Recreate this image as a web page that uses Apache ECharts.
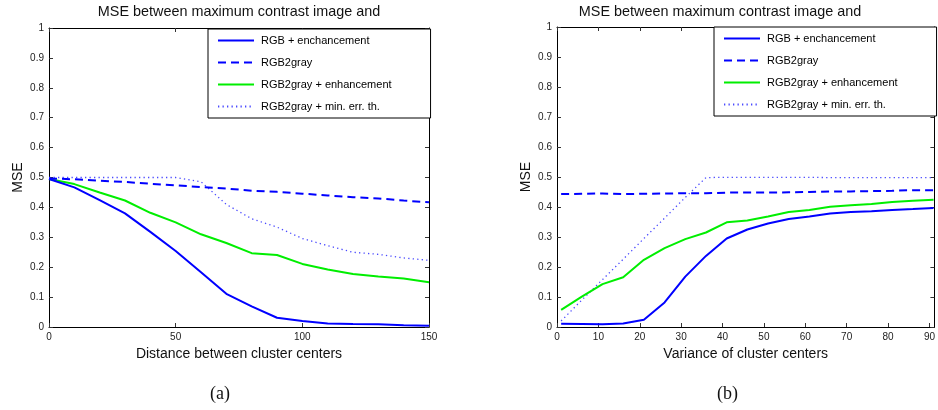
<!DOCTYPE html>
<html>
<head>
<meta charset="utf-8">
<script src="https://cdn.jsdelivr.net/npm/echarts@6/dist/echarts.min.js"></script>
<style>
  html, body { margin: 0; padding: 0; background: #fff; }
  #chart { width: 938px; height: 410px; }
</style>
</head>
<body>
<div id="chart"></div>
<script>
// Panel (a): MSE versus distance between cluster centers
const distX = [0, 10, 20, 30, 40, 50, 60, 70, 80, 90, 100, 110, 120, 130, 140, 150];
const distRgbEnh   = [0.495, 0.467, 0.424, 0.380, 0.318, 0.254, 0.183, 0.111, 0.069, 0.031, 0.020, 0.012, 0.010, 0.009, 0.006, 0.004];
const distGray     = [0.497, 0.494, 0.489, 0.485, 0.479, 0.474, 0.468, 0.463, 0.456, 0.452, 0.446, 0.440, 0.434, 0.430, 0.423, 0.417];
const distGrayEnh  = [0.495, 0.478, 0.450, 0.423, 0.382, 0.350, 0.310, 0.281, 0.247, 0.241, 0.211, 0.192, 0.177, 0.169, 0.162, 0.150];
const distGrayThr  = [0.500, 0.500, 0.500, 0.500, 0.500, 0.500, 0.486, 0.410, 0.362, 0.334, 0.296, 0.272, 0.250, 0.243, 0.231, 0.223];

// Panel (b): MSE versus variance of cluster centers
const varX = [1, 6, 11, 16, 21, 26, 31, 36, 41, 46, 51, 56, 61, 66, 71, 76, 81, 86, 91];
const varRgbEnh   = [0.011, 0.010, 0.009, 0.012, 0.024, 0.082, 0.168, 0.237, 0.295, 0.325, 0.345, 0.360, 0.368, 0.378, 0.383, 0.386, 0.390, 0.393, 0.397];
const varGray     = [0.443, 0.444, 0.445, 0.443, 0.444, 0.445, 0.446, 0.446, 0.448, 0.448, 0.448, 0.449, 0.450, 0.452, 0.452, 0.453, 0.454, 0.456, 0.456];
const varGrayEnh  = [0.057, 0.101, 0.143, 0.166, 0.224, 0.263, 0.293, 0.315, 0.349, 0.355, 0.368, 0.383, 0.390, 0.401, 0.406, 0.410, 0.417, 0.421, 0.424];
const varGrayThr  = [0.020, 0.090, 0.158, 0.226, 0.295, 0.363, 0.432, 0.498, 0.499, 0.499, 0.499, 0.499, 0.499, 0.498, 0.498, 0.498, 0.498, 0.498, 0.498];

const seriesNames = ['RGB + enchancement', 'RGB2gray', 'RGB2gray + enhancement', 'RGB2gray + min. err. th.'];
const titleText = 'MSE between maximum contrast image and';
const xNames = ['Distance between cluster centers', 'Variance of cluster centers'];
const captions = ['(a)', '(b)'];

const FONT = '"Liberation Sans", Arial, Helvetica, sans-serif';

const lineStyles = [
  { color: '#0000ff', width: 2, type: 'solid' },
  { color: '#0000ff', width: 2, type: [8, 5] },
  { color: '#00ee00', width: 2, type: 'solid' },
  { color: '#4a4aff', width: 1.3, type: [1.3, 3.2] }
];

function pairs(xs, ys) { return xs.map((x, i) => [x, ys[i]]); }

const grids = [
  { left: 49, top: 28, width: 380, height: 299 },
  { left: 557, top: 27, width: 380, height: 300 }
];
const xMax = [150, 91.2];

const xAxes = [], yAxes = [], series = [];
grids.forEach((g, gi) => {
  // bottom axis with labels and name
  xAxes.push({
    type: 'value', gridIndex: gi, min: 0, max: xMax[gi], interval: gi === 0 ? 50 : 10,
    position: 'bottom',
    name: xNames[gi], nameLocation: 'middle', nameGap: 17,
    nameTextStyle: { fontFamily: FONT, fontSize: 14, color: '#111' },
    axisLine: { show: true, onZero: false, lineStyle: { color: '#000', width: 1 } },
    axisTick: { show: true, inside: true, length: 4, lineStyle: { color: '#333' } },
    axisLabel: { fontFamily: FONT, fontSize: 10, color: '#222', margin: 5, showMaxLabel: gi === 0 },
    splitLine: { show: false }
  });
  // mirrored top axis (ticks only)
  xAxes.push({
    type: 'value', gridIndex: gi, min: 0, max: xMax[gi], interval: gi === 0 ? 50 : 10,
    position: 'top',
    axisLine: { show: true, onZero: false, lineStyle: { color: '#000', width: 1 } },
    axisTick: { show: true, inside: true, length: 4, lineStyle: { color: '#333' } },
    axisLabel: { show: false },
    splitLine: { show: false }
  });
  yAxes.push({
    type: 'value', gridIndex: gi, min: 0, max: 1, interval: 0.1,
    position: 'left',
    name: 'MSE', nameLocation: 'middle', nameGap: 24,
    nameTextStyle: { fontFamily: FONT, fontSize: 14, color: '#111' },
    axisLine: { show: true, onZero: false, lineStyle: { color: '#000', width: 1 } },
    axisTick: { show: true, inside: true, length: 4, lineStyle: { color: '#333' } },
    axisLabel: { fontFamily: FONT, fontSize: 10, color: '#222', margin: 5 },
    splitLine: { show: false }
  });
  yAxes.push({
    type: 'value', gridIndex: gi, min: 0, max: 1, interval: 0.1,
    position: 'right',
    axisLine: { show: true, onZero: false, lineStyle: { color: '#000', width: 1 } },
    axisTick: { show: true, inside: true, length: 4, lineStyle: { color: '#333' } },
    axisLabel: { show: false },
    splitLine: { show: false }
  });
});

const panelData = [
  [distX, [distRgbEnh, distGray, distGrayEnh, distGrayThr]],
  [varX, [varRgbEnh, varGray, varGrayEnh, varGrayThr]]
];

panelData.forEach(([xs, ysList], gi) => {
  ysList.forEach((ys, si) => {
    series.push({
      type: 'line', name: seriesNames[si],
      xAxisIndex: gi * 2, yAxisIndex: gi * 2,
      data: pairs(xs, ys),
      symbol: 'none', showSymbol: false, animation: false,
      lineStyle: lineStyles[si],
      itemStyle: { color: lineStyles[si].color },
      z: 4 - si
    });
  });
});

function legendAt(left, top) {
  return {
    orient: 'vertical', left: left, top: top,
    data: seriesNames,
    icon: 'inherit',
    itemWidth: 36, itemHeight: 11, itemGap: 11,
    padding: [6, 39, 6, 9],
    backgroundColor: '#fff', borderColor: '#000', borderWidth: 1,
    itemStyle: { opacity: 0 },
    lineStyle: { opacity: 1 },
    textStyle: { fontFamily: FONT, fontSize: 11, color: '#000', padding: [0, 0, 0, 2] },
    selectedMode: false
  };
}

const option = {
  backgroundColor: '#fff',
  animation: false,
  title: [
    { text: titleText, left: 234, top: 0, textAlign: 'center',
      textStyle: { fontFamily: FONT, fontSize: 14.4, fontWeight: 'normal', color: '#111' } },
    { text: titleText, left: 715, top: 0, textAlign: 'center',
      textStyle: { fontFamily: FONT, fontSize: 14.4, fontWeight: 'normal', color: '#111' } }
  ],
  legend: [legendAt(208, 29), legendAt(714, 27)],
  grid: grids,
  xAxis: xAxes,
  yAxis: yAxes,
  series: series,
  graphic: [
    { type: 'text', left: 221 - 11, top: 385,
      style: { text: captions[0], font: '18px "Liberation Serif", "DejaVu Serif", serif', fill: '#111' } },
    { type: 'text', left: 728 - 11, top: 385,
      style: { text: captions[1], font: '18px "Liberation Serif", "DejaVu Serif", serif', fill: '#111' } }
  ]
};

const chart = echarts.init(document.getElementById('chart'), null, { renderer: 'canvas' });
chart.setOption(option);
</script>
</body>
</html>
